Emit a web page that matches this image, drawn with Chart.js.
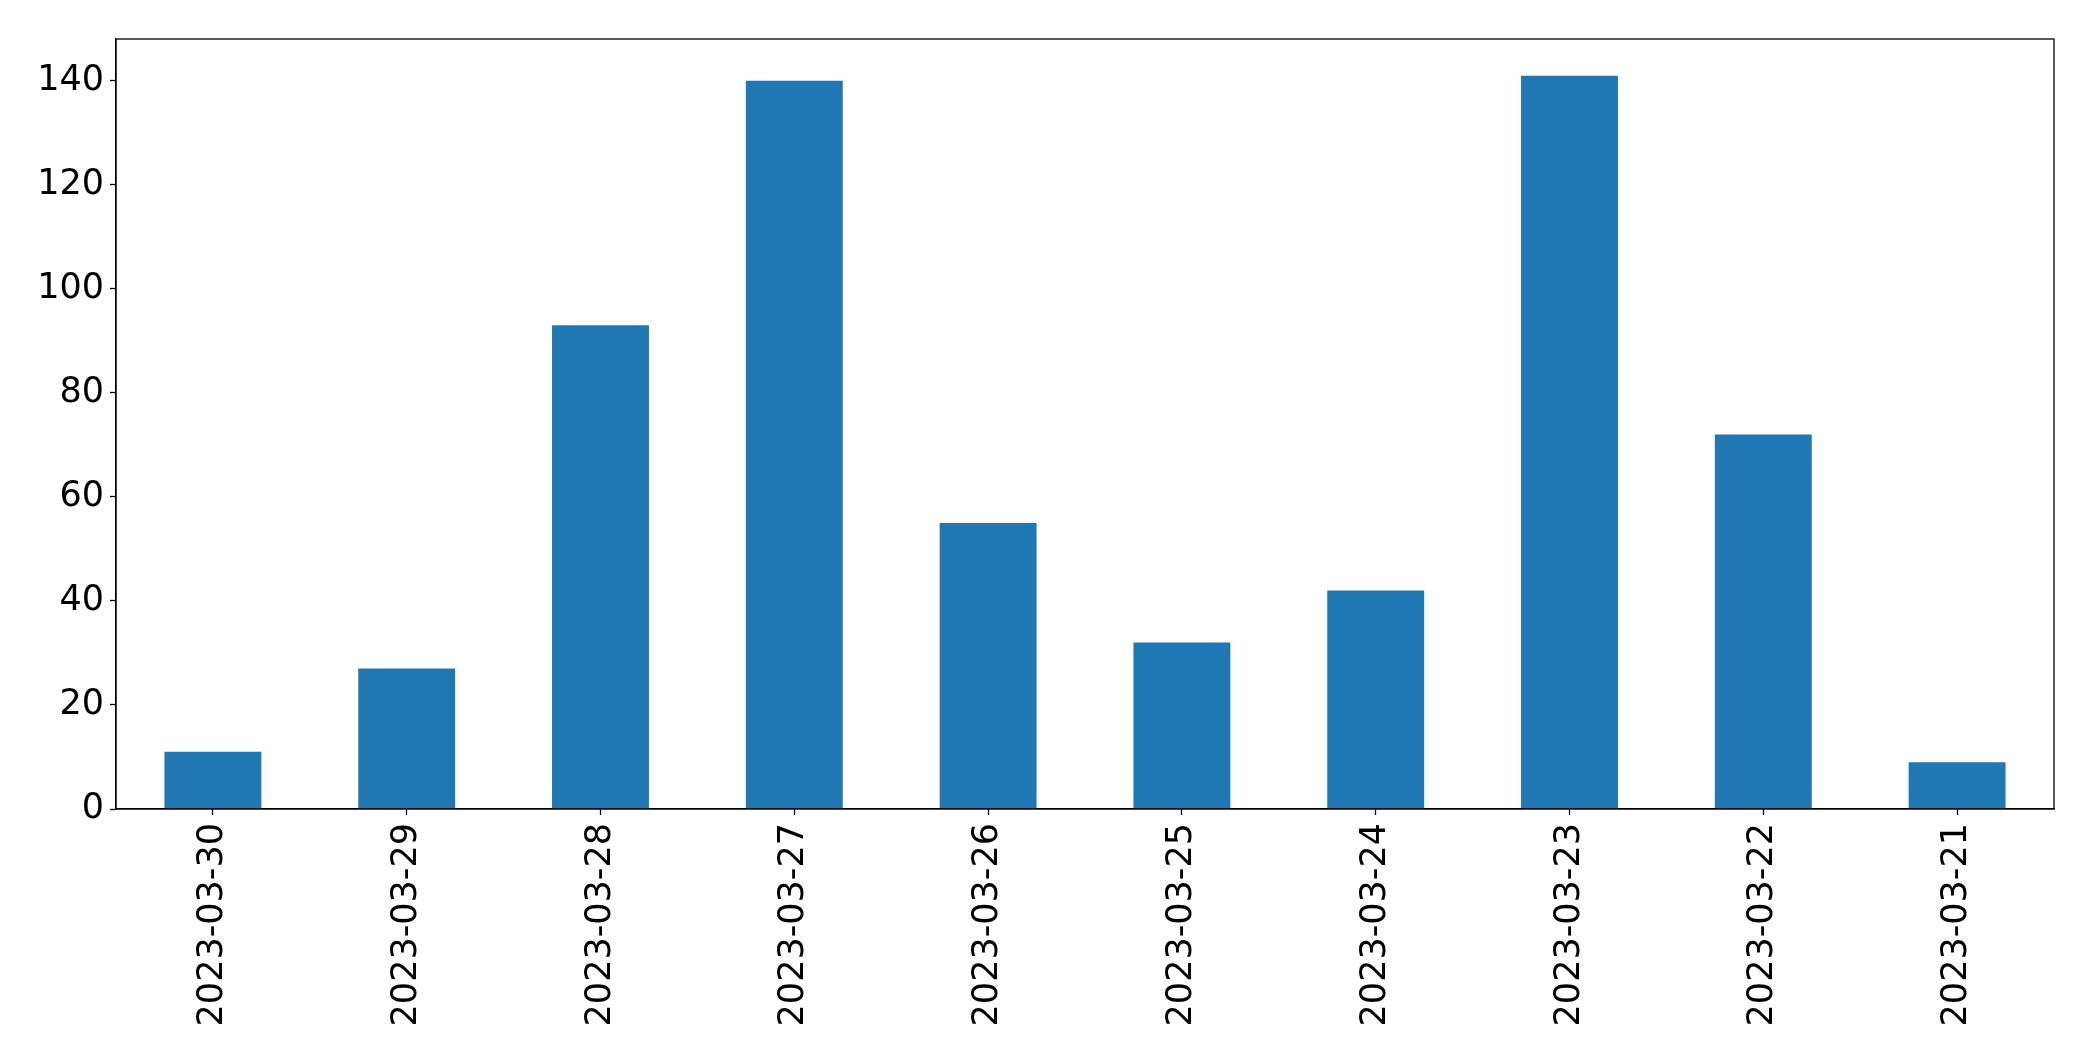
<!DOCTYPE html>
<html>
<head>
<meta charset="utf-8">
<script src="https://cdn.jsdelivr.net/npm/chart.js@4"></script>
<style>
    html, body { margin: 0; padding: 0; background: #fff; }
    canvas { display: block; }
</style>
</head>
<body>
<canvas id="dailyChart" width="2093" height="1061"></canvas>
<script>
const dates = ['2023-03-30', '2023-03-29', '2023-03-28', '2023-03-27', '2023-03-26',
    '2023-03-25', '2023-03-24', '2023-03-23', '2023-03-22', '2023-03-21'];
const counts = [11, 27, 93, 140, 55, 32, 42, 141, 72, 9];
const yTicks = [0, 20, 40, 60, 80, 100, 120, 140];

const ctx = document.getElementById('dailyChart');

// draws the black box round the plot area
const frame = {
    id: 'frame',
    afterDraw(chart) {
        const a = chart.chartArea;
        const c = chart.ctx;
        c.save();
        c.strokeStyle = '#000';
        c.lineWidth = 1.3;
        c.strokeRect(a.left, a.top, a.right - a.left, a.bottom - a.top);
        c.restore();
    }
};

const chart = new Chart(ctx, {
    type: 'bar',
    data: {
        labels: dates,
        datasets: [{
            data: counts,
            backgroundColor: '#1f77b4',
            categoryPercentage: 1.0,
            barPercentage: 0.5
        }]
    },
    options: {
        responsive: false,
        animation: false,
        layout: { padding: { top: 39, right: 39, left: 0, bottom: 0 } },
        plugins: {
            legend: { display: false },
            tooltip: { enabled: false }
        },
        scales: {
            x: {
                grid: { offset: false, drawOnChartArea: false, tickLength: 6, tickColor: '#000', tickWidth: 1.3 },
                border: { color: '#000', width: 1.3 },
                ticks: {
                    color: '#000',
                    font: { family: 'DejaVu Sans', size: 35 },
                    minRotation: 90,
                    maxRotation: 90,
                    padding: 8
                },
                afterFit(scale) { scale.height = 252; }
            },
            y: {
                min: 0,
                max: 148.05,
                afterBuildTicks(scale) {
                    scale.ticks = yTicks.map(v => ({ value: v }));
                },
                grid: { drawOnChartArea: false, tickLength: 6, tickColor: '#000', tickWidth: 1.3 },
                border: { color: '#000', width: 1.3 },
                ticks: {
                    color: '#000',
                    font: { family: 'DejaVu Sans', size: 35 },
                    padding: 6
                },
                afterFit(scale) { scale.width = 116; }
            }
        }
    },
    plugins: [frame]
});
</script>
</body>
</html>
